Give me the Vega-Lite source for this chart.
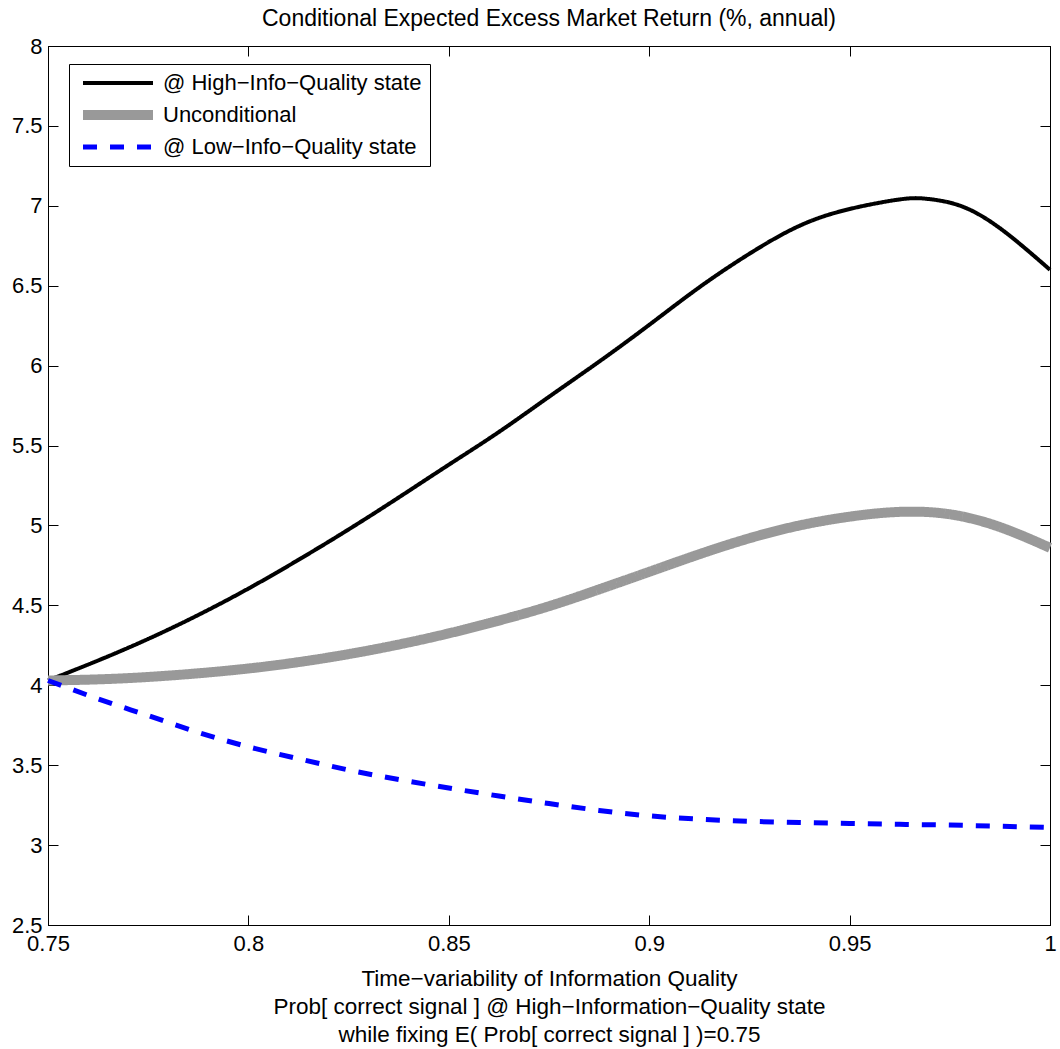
{
  "$schema": "https://vega.github.io/schema/vega-lite/v6.json",
  "width": 1002,
  "height": 879,
  "autosize": {"type": "none"},
  "padding": {"left": 48, "top": 46, "right": 10, "bottom": 124},
  "background": "white",
  "title": {
    "text": "Conditional Expected Excess Market Return (%, annual)",
    "font": "Liberation Sans",
    "fontSize": 23,
    "fontWeight": "normal",
    "color": "black",
    "anchor": "middle",
    "offset": 4
  },
  "config": {
    "font": "Liberation Sans",
    "view": {"stroke": "black", "strokeWidth": 1},
    "axis": {
      "grid": false,
      "domainColor": "black",
      "domainWidth": 1,
      "tickColor": "black",
      "tickWidth": 1,
      "tickSize": -10,
      "labelColor": "black",
      "labelFont": "Liberation Sans",
      "labelFontSize": 22,
      "titleColor": "black",
      "titleFont": "Liberation Sans",
      "titleFontSize": 22.5,
      "titleFontWeight": "normal",
      "titleLineHeight": 28
    },
    "legend": {
      "labelFont": "Liberation Sans",
      "labelFontSize": 22,
      "labelColor": "black",
      "labelLimit": 0
    }
  },
  "data": {
    "values": [
      {"p": 0.75, "s": "@ High−Info−Quality state", "v": 4.03},
      {"p": 0.7625, "s": "@ High−Info−Quality state", "v": 4.155},
      {"p": 0.775, "s": "@ High−Info−Quality state", "v": 4.29},
      {"p": 0.7875, "s": "@ High−Info−Quality state", "v": 4.44},
      {"p": 0.8, "s": "@ High−Info−Quality state", "v": 4.605},
      {"p": 0.8125, "s": "@ High−Info−Quality state", "v": 4.785},
      {"p": 0.825, "s": "@ High−Info−Quality state", "v": 4.975},
      {"p": 0.8375, "s": "@ High−Info−Quality state", "v": 5.175},
      {"p": 0.85, "s": "@ High−Info−Quality state", "v": 5.38},
      {"p": 0.8625, "s": "@ High−Info−Quality state", "v": 5.585},
      {"p": 0.875, "s": "@ High−Info−Quality state", "v": 5.805},
      {"p": 0.8875, "s": "@ High−Info−Quality state", "v": 6.025},
      {"p": 0.9, "s": "@ High−Info−Quality state", "v": 6.255},
      {"p": 0.9125, "s": "@ High−Info−Quality state", "v": 6.49},
      {"p": 0.925, "s": "@ High−Info−Quality state", "v": 6.7},
      {"p": 0.9375, "s": "@ High−Info−Quality state", "v": 6.875},
      {"p": 0.95, "s": "@ High−Info−Quality state", "v": 6.98},
      {"p": 0.9625, "s": "@ High−Info−Quality state", "v": 7.04},
      {"p": 0.96875, "s": "@ High−Info−Quality state", "v": 7.045},
      {"p": 0.975, "s": "@ High−Info−Quality state", "v": 7.02},
      {"p": 0.98125, "s": "@ High−Info−Quality state", "v": 6.96},
      {"p": 0.9875, "s": "@ High−Info−Quality state", "v": 6.86},
      {"p": 0.99375, "s": "@ High−Info−Quality state", "v": 6.735},
      {"p": 1.0, "s": "@ High−Info−Quality state", "v": 6.6},
      {"p": 0.75, "s": "Unconditional", "v": 4.03},
      {"p": 0.7625, "s": "Unconditional", "v": 4.037},
      {"p": 0.775, "s": "Unconditional", "v": 4.052},
      {"p": 0.7875, "s": "Unconditional", "v": 4.075},
      {"p": 0.8, "s": "Unconditional", "v": 4.105},
      {"p": 0.8125, "s": "Unconditional", "v": 4.145},
      {"p": 0.825, "s": "Unconditional", "v": 4.195},
      {"p": 0.8375, "s": "Unconditional", "v": 4.255},
      {"p": 0.85, "s": "Unconditional", "v": 4.325},
      {"p": 0.8625, "s": "Unconditional", "v": 4.405},
      {"p": 0.875, "s": "Unconditional", "v": 4.495},
      {"p": 0.8875, "s": "Unconditional", "v": 4.6},
      {"p": 0.9, "s": "Unconditional", "v": 4.71},
      {"p": 0.9125, "s": "Unconditional", "v": 4.82},
      {"p": 0.925, "s": "Unconditional", "v": 4.92},
      {"p": 0.9375, "s": "Unconditional", "v": 5.0},
      {"p": 0.95, "s": "Unconditional", "v": 5.055},
      {"p": 0.9625, "s": "Unconditional", "v": 5.085},
      {"p": 0.975, "s": "Unconditional", "v": 5.07},
      {"p": 0.9875, "s": "Unconditional", "v": 4.99},
      {"p": 1.0, "s": "Unconditional", "v": 4.86},
      {"p": 0.75, "s": "@ Low−Info−Quality state", "v": 4.03},
      {"p": 0.7625, "s": "@ Low−Info−Quality state", "v": 3.915},
      {"p": 0.775, "s": "@ Low−Info−Quality state", "v": 3.81},
      {"p": 0.7875, "s": "@ Low−Info−Quality state", "v": 3.705},
      {"p": 0.8, "s": "@ Low−Info−Quality state", "v": 3.615},
      {"p": 0.8125, "s": "@ Low−Info−Quality state", "v": 3.54},
      {"p": 0.825, "s": "@ Low−Info−Quality state", "v": 3.47},
      {"p": 0.8375, "s": "@ Low−Info−Quality state", "v": 3.41},
      {"p": 0.85, "s": "@ Low−Info−Quality state", "v": 3.357},
      {"p": 0.8625, "s": "@ Low−Info−Quality state", "v": 3.307},
      {"p": 0.875, "s": "@ Low−Info−Quality state", "v": 3.26},
      {"p": 0.8875, "s": "@ Low−Info−Quality state", "v": 3.217},
      {"p": 0.9, "s": "@ Low−Info−Quality state", "v": 3.183},
      {"p": 0.9125, "s": "@ Low−Info−Quality state", "v": 3.162},
      {"p": 0.925, "s": "@ Low−Info−Quality state", "v": 3.149},
      {"p": 0.9375, "s": "@ Low−Info−Quality state", "v": 3.141},
      {"p": 0.95, "s": "@ Low−Info−Quality state", "v": 3.135},
      {"p": 0.9625, "s": "@ Low−Info−Quality state", "v": 3.13},
      {"p": 0.975, "s": "@ Low−Info−Quality state", "v": 3.125},
      {"p": 0.9875, "s": "@ Low−Info−Quality state", "v": 3.118},
      {"p": 1.0, "s": "@ Low−Info−Quality state", "v": 3.11}
    ]
  },
  "resolve": {"axis": {"x": "independent", "y": "independent"}},
  "layer": [
    {
      "mark": {"type": "line", "interpolate": "natural"},
      "encoding": {
        "x": {
          "field": "p",
          "type": "quantitative",
          "scale": {"domain": [0.75, 1], "nice": false, "zero": false},
          "axis": {
            "orient": "bottom",
            "values": [0.75, 0.8, 0.85, 0.9, 0.95, 1],
            "format": "~g",
            "labelPadding": 18,
            "labelFlush": false,
            "titlePadding": 13,
            "title": [
              "Time−variability of Information Quality",
              "Prob[ correct signal ] @ High−Information−Quality state",
              "while fixing E( Prob[ correct signal ] )=0.75"
            ]
          }
        },
        "y": {
          "field": "v",
          "type": "quantitative",
          "scale": {"domain": [2.5, 8], "nice": false, "zero": false},
          "axis": {
            "orient": "left",
            "values": [2.5, 3, 3.5, 4, 4.5, 5, 5.5, 6, 6.5, 7, 7.5, 8],
            "format": "~g",
            "labelPadding": 16,
            "labelFlush": false,
            "title": null
          }
        },
        "color": {
          "field": "s",
          "type": "nominal",
          "scale": {
            "domain": ["@ High−Info−Quality state", "Unconditional", "@ Low−Info−Quality state"],
            "range": ["#000000", "#999999", "#0000ff"]
          },
          "legend": {
            "title": null,
            "orient": "none",
            "legendX": 21,
            "legendY": 18,
            "symbolType": "M-0.857,0H9.143",
            "symbolSize": 196,
            "strokeColor": "black",
            "fillColor": "white",
            "padding": 8,
            "labelOffset": 62,
            "rowPadding": 1
          }
        },
        "strokeWidth": {
          "field": "s",
          "type": "nominal",
          "scale": {
            "type": "ordinal",
            "domain": ["@ High−Info−Quality state", "Unconditional", "@ Low−Info−Quality state"],
            "range": [4, 10, 5]
          },
          "legend": null
        },
        "strokeDash": {
          "field": "s",
          "type": "nominal",
          "scale": {
            "domain": ["@ High−Info−Quality state", "Unconditional", "@ Low−Info−Quality state"],
            "range": [[1, 0], [1, 0], [14, 13]]
          },
          "legend": null
        },
        "order": {"field": "p", "type": "quantitative"}
      }
    },
    {
      "mark": {"type": "line", "strokeOpacity": 0},
      "encoding": {
        "x": {
          "field": "p",
          "type": "quantitative",
          "scale": {"domain": [0.75, 1], "nice": false, "zero": false},
          "axis": {
            "orient": "top",
            "values": [0.75, 0.8, 0.85, 0.9, 0.95, 1],
            "labels": false,
            "title": null
          }
        },
        "y": {
          "field": "v",
          "type": "quantitative",
          "scale": {"domain": [2.5, 8], "nice": false, "zero": false},
          "axis": {
            "orient": "right",
            "values": [2.5, 3, 3.5, 4, 4.5, 5, 5.5, 6, 6.5, 7, 7.5, 8],
            "labels": false,
            "title": null
          }
        },
        "detail": {"field": "s", "type": "nominal"}
      }
    }
  ]
}
